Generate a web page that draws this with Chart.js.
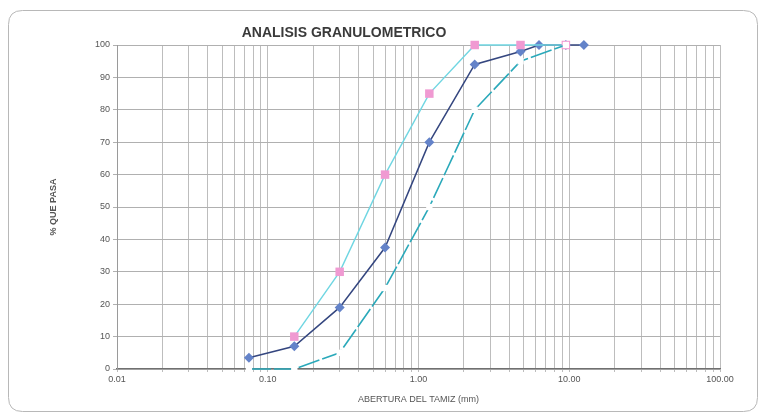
<!DOCTYPE html>
<html>
<head>
<meta charset="utf-8">
<script src="https://cdn.jsdelivr.net/npm/chart.js@4/dist/chart.umd.min.js"></script>
<style>
  html, body { margin: 0; padding: 0; background: #ffffff; }
  #wrap { width: 765px; height: 416px; position: relative; }
</style>
</head>
<body>
<div id="wrap"><canvas id="c" width="765" height="416"></canvas></div>
<script>
// ---- data ----
const TITLE = 'ANALISIS GRANULOMETRICO';
const Y_TITLE = '% QUE PASA';
const X_TITLE = 'ABERTURA DEL TAMIZ (mm)';

const SAMPLE_SIEVES = [0.075, 0.15, 0.3, 0.6, 1.18, 2.36, 4.75, 6.3, 9.5, 12.5];
const SAMPLE_PASS   = [3.5, 7, 19, 37.5, 70, 94, 98, 100, 100, 100];

const UPPER_SIEVES = [0.15, 0.3, 0.6, 1.18, 2.36, 4.75, 9.5];
const UPPER_PASS   = [10, 30, 60, 85, 100, 100, 100];

const LOWER_SIEVES = [0.075, 0.15, 0.3, 0.6, 1.18, 2.36, 4.75, 9.5];
const LOWER_PASS   = [0, 0, 5, 25, 50, 80, 95, 100];

const X_DECADES     = [0.01, 0.1, 1, 10, 100];
const X_TICK_LABELS = ['0.01', '0.10', '1.00', '10.00', '100.00'];
const Y_MIN = 0, Y_MAX = 100, Y_STEP = 10;

const FONT = '"Liberation Sans Narrow", "Arial Narrow", "Liberation Sans", Arial, sans-serif';

function pts(xs, ys) { return xs.map((x, i) => ({ x: x, y: ys[i] })); }

const framePlugin = {
  id: 'frame',
  beforeDraw(chart) {
    const ctx = chart.ctx;
    ctx.save();
    ctx.fillStyle = '#ffffff';
    ctx.fillRect(0, 0, chart.width, chart.height);
    ctx.strokeStyle = '#b8b8b8';
    ctx.lineWidth = 1;
    const x = 8.5, y = 10.5, w = 749, h = 401, r = 14;
    ctx.beginPath();
    ctx.moveTo(x + r, y);
    ctx.lineTo(x + w - r, y);
    ctx.quadraticCurveTo(x + w, y, x + w, y + r);
    ctx.lineTo(x + w, y + h - r);
    ctx.quadraticCurveTo(x + w, y + h, x + w - r, y + h);
    ctx.lineTo(x + r, y + h);
    ctx.quadraticCurveTo(x, y + h, x, y + h - r);
    ctx.lineTo(x, y + r);
    ctx.quadraticCurveTo(x, y, x + r, y);
    ctx.stroke();
    ctx.restore();
  },
  afterDraw(chart) {
    const ctx = chart.ctx;
    ctx.save();
    ctx.fillStyle = '#3a3a3a';
    ctx.font = 'bold 14px ' + FONT;
    ctx.textAlign = 'center';
    ctx.textBaseline = 'middle';
    ctx.fillText(TITLE, 344, 33);
    ctx.restore();
  }
};

new Chart(document.getElementById('c'), {
  type: 'line',
  data: {
    datasets: [
      {
        label: 'Lower limit',
        data: pts(LOWER_SIEVES, LOWER_PASS),
        borderColor: '#2aa9ba',
        borderWidth: 1.6,
        borderDash: [22, 3],
        pointStyle: 'rect',
        pointRadius: 4.5,
        pointBackgroundColor: '#ffffff',
        pointBorderWidth: 0,
        pointBorderColor: '#ffffff',
        tension: 0,
        order: 0,
        clip: 12
      },
      {
        label: 'Upper limit',
        data: pts(UPPER_SIEVES, UPPER_PASS),
        borderColor: '#6fd6e2',
        borderWidth: 1.4,
        pointStyle: 'rect',
        pointRadius: 6,
        pointBackgroundColor: '#f09ad2',
        pointBorderColor: '#f09ad2',
        pointBorderWidth: 0,
        tension: 0,
        order: 1,
        clip: 12
      },
      {
        label: 'Muestra',
        data: pts(SAMPLE_SIEVES, SAMPLE_PASS),
        borderColor: '#34467f',
        borderWidth: 1.5,
        pointStyle: 'rectRot',
        pointRadius: 5,
        pointBackgroundColor: '#6483c9',
        pointBorderColor: '#6483c9',
        pointBorderWidth: 0,
        tension: 0,
        order: 2,
        clip: 12
      }
    ]
  },
  options: {
    responsive: false,
    animation: false,
    devicePixelRatio: 1,
    layout: { padding: { left: 40, right: 45, top: 45, bottom: 8 } },
    plugins: {
      legend: { display: false },
      title: { display: false },
      tooltip: { enabled: false }
    },
    scales: {
      x: {
        type: 'logarithmic',
        min: X_DECADES[0],
        max: X_DECADES[X_DECADES.length - 1],
        afterBuildTicks(scale) {
          const t = [];
          for (let i = 0; i < X_DECADES.length - 1; i++) {
            for (let k = 1; k <= 9; k++) {
              t.push({ value: k * X_DECADES[i], major: k === 1 });
            }
          }
          t.push({ value: X_DECADES[X_DECADES.length - 1], major: true });
          scale.ticks = t;
        },
        afterFit(scale) { scale.height = 39; },
        ticks: {
          autoSkip: false,
          maxRotation: 0,
          minRotation: 0,
          padding: 2,
          color: '#555555',
          font: { family: FONT, size: 9 },
          callback(value) {
            for (let i = 0; i < X_DECADES.length; i++) {
              if (Math.abs(value - X_DECADES[i]) < X_DECADES[i] * 1e-6) return X_TICK_LABELS[i];
            }
            return '';
          }
        },
        grid: {
          color: '#bdbdbd',
          lineWidth: 1,
          drawTicks: true,
          tickLength: 3,
          tickColor: '#bdbdbd'
        },
        border: { display: true, color: '#707070', width: 1.2 },
        title: {
          display: true,
          text: X_TITLE,
          color: '#555555',
          font: { family: FONT, size: 9 },
          padding: { top: 0, bottom: 3 }
        }
      },
      y: {
        type: 'linear',
        min: Y_MIN,
        max: Y_MAX,
        afterFit(scale) { scale.width = 77; },
        ticks: {
          stepSize: Y_STEP,
          padding: 3,
          color: '#555555',
          font: { family: FONT, size: 9 }
        },
        grid: {
          color: '#b0b0b0',
          lineWidth: 1,
          drawTicks: true,
          tickLength: 4,
          tickColor: '#b0b0b0'
        },
        border: { display: true, color: '#9a9a9a', width: 1 },
        title: {
          display: true,
          text: Y_TITLE,
          color: '#555555',
          font: { family: FONT, size: 9, weight: 'bold' },
          padding: { top: 8, bottom: 0 }
        }
      }
    }
  },
  plugins: [framePlugin]
});
</script>
</body>
</html>
